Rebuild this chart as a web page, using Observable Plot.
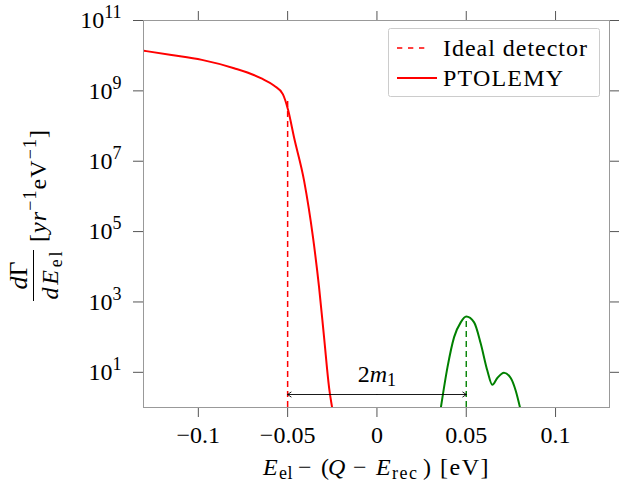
<!DOCTYPE html>
<html>
<head>
<meta charset="utf-8">
<script src="https://cdn.jsdelivr.net/npm/d3@7"></script>
<script src="https://cdn.jsdelivr.net/npm/@observablehq/plot@0.6"></script>
<style>
  html, body { margin: 0; padding: 0; background: #fff; }
  #chart svg { display: block; }
</style>
</head>
<body>
<div id="chart"></div>
<script>
// ---- data ----
const xTicks = [-0.1, -0.05, 0, 0.05, 0.1];
const yTicks = [1e1, 1e3, 1e5, 1e7, 1e9, 1e11];

const ptolemyX = [-0.1305, -0.115, -0.098, -0.080, -0.065, -0.0575, -0.0527, -0.0497, -0.0464, -0.0408, -0.0358, -0.0324, -0.0296, -0.0268, -0.0251];
const ptolemyY = [1.38e10, 1.05e10, 7.6e9, 4.4e9, 2.3e9, 1.4e9, 8.1e8, 2.8e8, 4.7e7, 2.8e6, 6.8e4, 2.6e3, 98, 3.7, 1.0];

const relicX = [0.0358, 0.0395, 0.0432, 0.0469, 0.050, 0.0544, 0.0581, 0.0618, 0.0646, 0.0674, 0.0711, 0.0749, 0.0777, 0.0801];
const relicY = [1, 14, 100, 263, 385, 263, 66, 11.2, 4.4, 6.9, 9.8, 6.9, 3.0, 1];

const idealEndX = -0.05, idealEndTop = 6e8;
const relicPeakX = 0.05, relicPeakTop = 385;
const arrowY = 2.34;
const arrowLabel = "2m_1";
const arrowLabelY = 8.7;

const legendLabels = ["Ideal detector", "PTOLEMY"];

// ---- build ----
const red = d3.zip(ptolemyX, ptolemyY).map(([x, y]) => ({x, y}));
const green = d3.zip(relicX, relicY).map(([x, y]) => ({x, y}));

const FONT = "'Liberation Serif', serif";
const FS = 24;

const svg = Plot.plot({
  width: 619,
  height: 483,
  marginLeft: 143,
  marginRight: 10,
  marginTop: 20,
  marginBottom: 76,
  style: {fontFamily: FONT, fontSize: FS + "px", background: "#fff", color: "#000", overflow: "visible"},
  x: {domain: [-0.1307, 0.1302]},
  y: {type: "log", domain: [1, 1e11]},
  marks: [
    Plot.axisX({anchor: "bottom", ticks: xTicks, tickSize: 10, tickPadding: 8, stroke: "#555", fontSize: FS,
      tickFormat: d => d === 0 ? "0" : (d < 0 ? "\u2212" : "") + String(Math.abs(d)), label: null}),
    Plot.axisX({anchor: "top", ticks: xTicks, tickSize: 10, stroke: "#555", tickFormat: () => "", label: null}),
    Plot.axisY({anchor: "left", ticks: yTicks, tickSize: 10, tickPadding: 12, stroke: "#555", fontSize: FS,
      tickFormat: d => "10^" + Math.round(Math.log10(d)), label: null}),
    Plot.axisY({anchor: "right", ticks: yTicks, tickSize: 10, stroke: "#555", tickFormat: () => "", label: null}),
    Plot.ruleX([{x: idealEndX, y1: 1, y2: idealEndTop}], {x: "x", y1: "y1", y2: "y2", stroke: "#ff0000", strokeWidth: 1.5, strokeDasharray: "6,4"}),
    Plot.ruleX([{x: relicPeakX, y1: 1, y2: relicPeakTop}], {x: "x", y1: "y1", y2: "y2", stroke: "#008000", strokeWidth: 1.4, strokeDasharray: "6,4"}),
    Plot.line(red, {x: "x", y: "y", stroke: "#ff0000", strokeWidth: 2, curve: "monotone-x", clip: true}),
    Plot.line(green, {x: "x", y: "y", stroke: "#008000", strokeWidth: 2, curve: "monotone-x", clip: true}),
    Plot.arrow([{x1: 0, x2: idealEndX, y: arrowY}, {x1: 0, x2: relicPeakX, y: arrowY}],
      {x1: "x1", x2: "x2", y1: "y", y2: "y", stroke: "#000", strokeWidth: 0.9, headLength: 7, headAngle: 70}),
    Plot.text([{x: 0, y: arrowLabelY, t: arrowLabel}], {x: "x", y: "y", text: "t", fill: "#000", fontSize: FS}),
    Plot.frame({stroke: "#999", strokeWidth: 1})
  ]
});

const s = d3.select(svg);

// rich text helper
function rich(textNode, parts, fs = FS) {
  const t = d3.select(textNode);
  t.text("");
  let shift = 0;
  for (const p of parts) {
    const sp = t.append("tspan").text(p.t);
    let target = 0;
    if (p.sup) target = -Math.round(fs * 0.4);
    if (p.sub) target = Math.round(fs * 0.17);
    if (target !== shift) { sp.attr("dy", target - shift); shift = target; }
    if (p.x !== undefined) sp.attr("x", p.x);
    if (p.italic) sp.attr("font-style", "italic");
    if (p.ls) sp.attr("letter-spacing", p.ls);
    if (p.sup || p.sub) sp.attr("font-size", Math.round(fs * 0.75));
  }
}

s.selectAll("text").each(function() {
  const txt = this.textContent;
  if (txt.startsWith("10^")) {
    rich(this, [{t: "10"}, {t: txt.slice(3), sup: true}]);
  } else if (txt === "2m_1") {
    rich(this, [{t: "2"}, {t: "m", italic: true}, {t: "1", sub: true}]);
  }
});

// x label
const xl = s.append("text").attr("y", 475).attr("text-anchor", "start")
  .attr("font-family", FONT).attr("font-size", FS).attr("fill", "#000");
rich(xl.node(), [
  {t: "E", italic: true, x: 263}, {t: "el", sub: true, x: 279, ls: 0.5}, {t: "\u2212", x: 298}, {t: "(", x: 321},
  {t: "Q", italic: true, x: 328}, {t: "\u2212", x: 353}, {t: "E", italic: true, x: 376},
  {t: "rec", sub: true, x: 392, ls: 1.5}, {t: ")", x: 423}, {t: "[eV]", x: 440, ls: 1.5}
]);

// y label
const yg = s.append("g").attr("transform", "translate(0,214) rotate(-90)")
  .attr("font-family", FONT).attr("font-size", FS).attr("fill", "#000");
const num = yg.append("text").attr("x", -61.5).attr("y", 27).attr("text-anchor", "middle").attr("font-size", 26);
rich(num.node(), [{t: "d", italic: true}, {t: "\u0393"}], 26);
yg.append("line").attr("x1", -87).attr("x2", -36).attr("y1", 33.5).attr("y2", 33.5).attr("stroke", "#000").attr("stroke-width", 1);
const den = yg.append("text").attr("x", -61.5).attr("y", 58).attr("text-anchor", "middle").attr("textLength", 48);
rich(den.node(), [{t: "dE", italic: true}, {t: "el", sub: true}]);
const br = yg.append("text").attr("x", -28).attr("y", 46).attr("text-anchor", "start").attr("textLength", 112);
rich(br.node(), [{t: "["}, {t: "yr", italic: true}, {t: "\u22121", sup: true}, {t: "eV"}, {t: "\u22121", sup: true}, {t: "]"}]);

// legend
const lg = s.append("g").attr("font-family", FONT).attr("font-size", FS).attr("fill", "#000").attr("text-anchor", "start");
lg.append("rect").attr("x", 388.5).attr("y", 28.5).attr("width", 211).attr("height", 68).attr("rx", 2)
  .attr("fill", "#fff").attr("stroke", "#ccc").attr("stroke-width", 1);
lg.append("line").attr("x1", 397).attr("x2", 424.5).attr("y1", 48).attr("y2", 48)
  .attr("stroke", "#ff0000").attr("stroke-width", 1.5).attr("stroke-dasharray", "5.3,5.7");
lg.append("line").attr("x1", 397).attr("x2", 437).attr("y1", 78).attr("y2", 78)
  .attr("stroke", "#ff0000").attr("stroke-width", 2);
lg.append("text").attr("x", 443).attr("y", 56).attr("textLength", 144).text(legendLabels[0]);
lg.append("text").attr("x", 443).attr("y", 86).attr("textLength", 120).text(legendLabels[1]);

document.getElementById("chart").appendChild(svg);
</script>
</body>
</html>
